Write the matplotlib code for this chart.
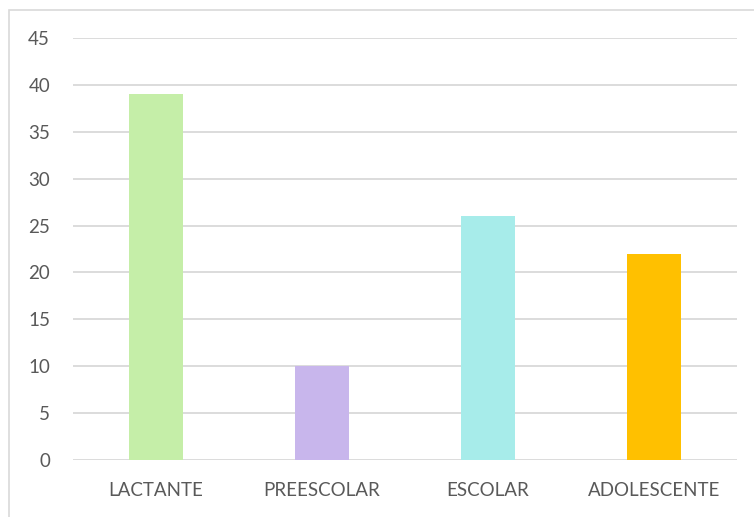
import matplotlib
matplotlib.use("Agg")
import matplotlib.pyplot as plt
from matplotlib.patches import Rectangle

categories = ["LACTANTE", "PREESCOLAR", "ESCOLAR", "ADOLESCENTE"]
values = [39, 10, 26, 22]
colors = ["#C5EEA8", "#C8B6EC", "#A7ECEA", "#FFC000"]
yticks = [0, 5, 10, 15, 20, 25, 30, 35, 40, 45]

plt.rcParams['font.family'] = ['Lato', 'DejaVu Sans']

W, H = 754, 517
fig = plt.figure(figsize=(W/100, H/100), dpi=100)
ax = fig.add_axes([73/W, 1-460/H, (737-73)/W, (460-38)/H])

x = list(range(len(categories)))
ax.bar(x, values, width=0.325, color=colors, zorder=3)
ax.set_xlim(-0.5, 3.5)
ax.set_ylim(0, 45)
ax.set_yticks(yticks)
ax.set_xticks(x)
ax.set_xticklabels(categories)
ax.tick_params(axis='both', length=0, labelsize=13.5, labelcolor="#595959")
ax.tick_params(axis='y', pad=16.5)
ax.tick_params(axis='x', pad=16)
ax.grid(axis='y', color="#D9D9D9", linewidth=1.3, zorder=0)
for s in ax.spines.values():
    s.set_visible(False)

border = Rectangle((8.5/W, -0.1), 1.0, 1 - 9.5/H + 0.1, transform=fig.transFigure,
                   fill=False, edgecolor="#D9D9D9", linewidth=1.2)
fig.patches.append(border)

fig.savefig("out.png", dpi=100)
